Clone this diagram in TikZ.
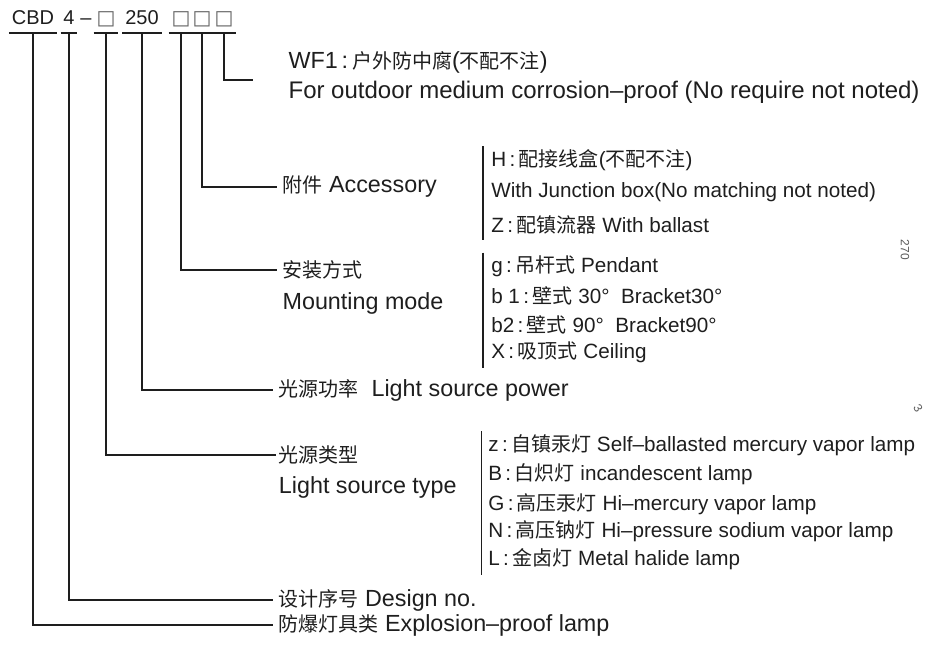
\documentclass[tikz,border=0pt]{standalone}
\usepackage{fontspec}
\setmainfont{Liberation Sans}
\newfontfamily\cjk{Noto Sans CJK SC}
\newfontfamily\symb{DejaVu Sans}
\usetikzlibrary{positioning}
\definecolor{inkgray}{RGB}{30,30,30}
\definecolor{boxgray}{RGB}{100,100,100}
\definecolor{scangray}{RGB}{90,90,90}
\newcommand{\zh}[1]{{\cjk\fontsize{15}{18}\selectfont #1}}
\newcommand{\sep}{\,:\,}
\newcommand{\sq}{{\symb\color{boxgray}□}}

\begin{document}
\begin{tikzpicture}[
    x=0.75pt, y=-0.75pt,
    font=\fontsize{15}{18}\selectfont,
    code/.style={anchor=south, inner xsep=2pt, inner ysep=6pt, text depth=0pt, text=inkgray},
    desc/.style={anchor=west, inner xsep=4pt, inner ysep=1pt, text=inkgray, font=\fontsize{17.5}{20}\selectfont},
    entry/.style={anchor=west, inner sep=0pt, text=inkgray, font=\fontsize{15.5}{18}\selectfont},
    uline/.style={line width=1pt, color=inkgray},
    link/.style={line width=1pt, color=inkgray},
    bar/.style={line width=0.8pt, color=inkgray}
    ]
    \useasboundingbox (0,0) rectangle (926,655);

    % Code
    \node[code] (cbd) at (33,33) {CBD};
    \node[code] (num) at (69,33) {4};
    \node[code, inner xsep=0pt] (dash) at (86,33) {–};
    \node[code] (src) at (106,33) {\sq};
    \node[code] (pw) at (142,33) {250};
    \node[code] (opta) at (181,33) {\sq};
    \node[code] (optb) at (202,33) {\sq};
    \node[code] (optc) at (224,33) {\sq};
    \foreach \n in {cbd,num,src,pw,opta,optb,optc}
        \draw[uline] (\n.south west) -- (\n.south east);

    % Descriptions
    \node[desc] (wfzh) at (283,62) {WF1\sep\zh{户外防中腐}(\zh{不配不注})};
    \node[desc, font=\fontsize{18}{20}\selectfont] (wfen) at (283,92) {For outdoor medium corrosion–proof (No require not noted)};
    \coordinate (wfend) at (253,80);
    \node[desc] (acc) at (277,187) {\zh{附件} Accessory};
    \node[desc] (mountzh) at (277,270) {\zh{安装方式}};
    \node[desc] (mounten) at (277,303) {Mounting mode};
    \node[desc] (power) at (273,390) {\zh{光源功率}\ \ Light source power};
    \node[desc, inner xsep=2pt] (typezh) at (276,455) {\zh{光源类型}};
    \node[desc, inner xsep=2pt] (typeen) at (276,487) {Light source type};
    \node[desc] (design) at (273,600) {\zh{设计序号} Design no.};
    \node[desc] (explo) at (273,625) {\zh{防爆灯具类} Explosion–proof lamp};

    % Options
    \node[entry] (acc1) at (491,160) {H\sep\zh{配接线盒}(\zh{不配不注})};
    \node[entry] (acc2) at (491,192) {With Junction box(No matching not noted)};
    \node[entry] (acc3) at (491,225) {Z\sep\zh{配镇流器} With ballast};
    \node[entry] (mnt1) at (491,266) {g\sep\zh{吊杆式} Pendant};
    \node[entry] (mnt2) at (491,296) {b 1\sep\zh{壁式} 30°\ \ Bracket30°};
    \node[entry] (mnt3) at (491,325) {b2\sep\zh{壁式} 90°\ \ Bracket90°};
    \node[entry] (mnt4) at (491,352) {X\sep\zh{吸顶式} Ceiling};
    \node[entry] (typ1) at (488,445) {z\sep\zh{自镇汞灯} Self–ballasted mercury vapor lamp};
    \node[entry] (typ2) at (488,474) {B\sep\zh{白炽灯} incandescent lamp};
    \node[entry] (typ3) at (488,504) {G\sep\zh{高压汞灯} Hi–mercury vapor lamp};
    \node[entry] (typ4) at (488,531) {N\sep\zh{高压钠灯} Hi–pressure sodium vapor lamp};
    \node[entry] (typ5) at (488,559) {L\sep\zh{金卤灯} Metal halide lamp};

    % Scan marks
    \node[text=scangray, font=\fontsize{9}{10}\selectfont, rotate=-90] (pagea) at (905,250) {270};
    \node[text=scangray, font=\fontsize{9}{10}\selectfont, rotate=-60] (pageb) at (918,408) {3};

    % Connectors
    \draw[link] (cbd.south) |- (explo.west);
    \draw[link] (num.south) |- (design.west);
    \draw[link] (src.south) |- (typezh.west);
    \draw[link] (pw.south) |- (power.west);
    \draw[link] (opta.south) |- (mountzh.west);
    \draw[link] (optb.south) |- (acc.west);
    \draw[link] (optc.south) |- (wfend);

    % Brackets
    \draw[bar] ([xshift=-6pt,yshift=2pt]acc1.north west) -- ([xshift=-6pt,yshift=-4pt]acc3.south west);
    \draw[bar] ([xshift=-6pt,yshift=2pt]mnt1.north west) -- ([xshift=-6pt,yshift=-4pt]mnt4.south west);
    \draw[bar] ([xshift=-5pt,yshift=2pt]typ1.north west) -- ([xshift=-5pt,yshift=-4pt]typ5.south west);

\end{tikzpicture}
\end{document}
